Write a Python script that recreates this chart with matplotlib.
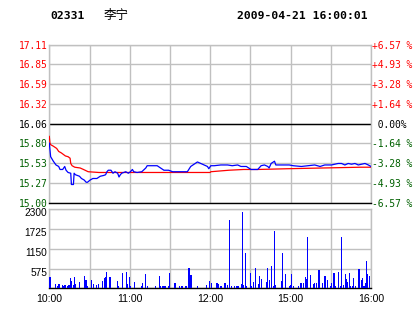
import matplotlib
matplotlib.use('Agg')
import matplotlib.pyplot as plt
from matplotlib.transforms import ScaledTranslation

# ---------------- data ----------------
stock_code = "02331"
stock_name = "李宁"
timestamp = "2009-04-21 16:00:01"
prev_close = 16.06

price_ticks = [15.00, 15.27, 15.53, 15.80, 16.06, 16.32, 16.59, 16.85, 17.11]
pct_labels = ["-6.57 %", "-4.93 %", "-3.28 %", "-1.64 %", " 0.00%",
              "+1.64 %", "+3.28 %", "+4.93 %", "+6.57 %"]
vol_ticks = [575, 1150, 1725, 2300]
time_ticks = [0, 60, 120, 180, 240]
time_labels = ["10:00", "11:00", "12:00", "15:00", "16:00"]

# minutes since 10:00 (trading minutes) and last price
price_t = [0, 1, 3, 5, 7, 8, 10, 11.5, 12.5, 14, 16, 16.5, 18, 18.5, 19.5, 21, 22.5,
           24, 26, 27.5, 28.5, 30.5, 32.5, 35.5, 38, 40.5, 42, 43, 44, 46, 47.5, 49,
           51, 52, 53, 54, 57, 59, 60.5, 62, 63, 65.5, 69, 72, 73, 80.5, 83, 85.5, 89,
           92, 103, 105.5, 108, 110.5, 113, 115.5, 118, 119, 120.5, 123, 128, 133,
           136.5, 140.5, 143, 147, 150.5, 155.5, 158, 160.5, 163, 164, 165.5, 168,
           169, 173, 179, 182, 188, 193, 198, 202, 205.5, 210.5, 213, 215.5, 218,
           220.5, 223, 225.5, 228, 230.5, 233, 235.5, 238, 240]
price_v = [15.80, 15.62, 15.56, 15.51, 15.49, 15.45, 15.45, 15.49, 15.44, 15.41, 15.40,
           15.25, 15.25, 15.40, 15.38, 15.37, 15.36, 15.33, 15.31, 15.28, 15.28, 15.31,
           15.33, 15.33, 15.36, 15.37, 15.38, 15.42, 15.44, 15.44, 15.40, 15.42, 15.40,
           15.35, 15.38, 15.40, 15.42, 15.40, 15.42, 15.45, 15.42, 15.41, 15.42, 15.47,
           15.50, 15.50, 15.47, 15.44, 15.44, 15.42, 15.42, 15.49, 15.52, 15.55, 15.53,
           15.51, 15.49, 15.46, 15.50, 15.50, 15.51, 15.51, 15.50, 15.51, 15.49, 15.49,
           15.45, 15.45, 15.50, 15.51, 15.49, 15.47, 15.53, 15.56, 15.51, 15.51, 15.51,
           15.50, 15.49, 15.50, 15.51, 15.49, 15.51, 15.51, 15.52, 15.53, 15.53, 15.51,
           15.53, 15.52, 15.53, 15.51, 15.52, 15.53, 15.51, 15.49]

# average price line
avg_t = [0, 0.5, 1, 3, 5.5, 7, 9, 12, 14, 15.5, 16, 17, 19, 23, 25.5, 29, 37, 68,
         120, 120.5, 134, 145, 155.5, 178, 232, 240]
avg_v = [15.89, 15.80, 15.78, 15.76, 15.73, 15.69, 15.67, 15.63, 15.62, 15.60, 15.53,
         15.50, 15.48, 15.47, 15.45, 15.42, 15.41, 15.41, 15.41, 15.42, 15.44, 15.45,
         15.45, 15.46, 15.48, 15.48]

# volume bars
vol_t = [0, 1, 4.5, 6, 6.7, 7.5, 9.7, 10.4, 11.7, 12.4, 13.4, 14.7, 15.7, 16.4, 17.9,
         18.7, 19.4, 22.4, 26.6, 27.4, 28.1, 31.3, 32.8, 35.3, 36.6, 39.6, 41.5, 42.3,
         43.0, 44.8, 45.5, 50.7, 51.5, 54.5, 57.5, 58.2, 59.5, 60.9, 63.9, 68.7, 69.4,
         71.6, 73.1, 78.9, 82.1, 83.3, 84.3, 85.3, 86.3, 89.3, 90.0, 93.8, 96.8, 99.0,
         102.0, 104.2, 105.7, 110.4, 117.2, 119.4, 120.9, 125.1, 126.1, 128.1, 131.1,
         132.6, 134.3, 135.6, 138.1, 139.6, 140.8, 143.5, 144.0, 145.0, 146.3, 147.3,
         150.0, 151.0, 152.2, 153.7, 156.0, 156.7, 158.5, 161.9, 162.7, 164.2, 165.7,
         167.2, 168.2, 168.9, 173.1, 173.9, 175.9, 179.1, 180.1, 180.8, 182.3, 185.8,
         187.8, 189.3, 191.0, 191.8, 192.5, 194.8, 197.0, 198.0, 199.5, 201.2, 203.7,
         205.7, 207.5, 210.0, 210.7, 212.4, 213.7, 215.7, 217.2, 218.2, 219.2, 220.9,
         221.9, 222.6, 223.9, 224.9, 226.1, 227.1, 228.1, 230.6, 231.6, 233.1, 233.8,
         234.8, 236.1, 236.8, 237.6, 238.6]
vol_v = [335, 335, 125, 77, 115, 125, 96, 77, 96, 67, 77, 96, 306, 210, 96, 335, 115,
         192, 364, 240, 67, 240, 125, 96, 125, 210, 306, 335, 470, 316, 335, 210, 67,
         440, 470, 125, 325, 67, 192, 67, 144, 412, 67, 67, 355, 67, 67, 67, 67, 67,
         440, 153, 67, 67, 67, 584, 383, 67, 96, 220, 163, 144, 115, 67, 144, 96, 1988,
         67, 67, 67, 67, 115, 2221, 96, 1020, 67, 431, 67, 192, 604, 115, 364, 268, 172,
         584, 240, 661, 77, 1680, 96, 210, 1030, 412, 67, 96, 412, 67, 67, 144, 144,
         316, 268, 1480, 383, 115, 144, 144, 527, 144, 355, 240, 67, 144, 431, 77, 470,
         67, 1480, 96, 412, 268, 172, 431, 67, 67, 297, 67, 556, 556, 240, 306, 67, 144,
         785, 412, 364]

# ---------------- drawing ----------------
W, H = 414, 314
fig = plt.figure(figsize=(W / 100, H / 100), dpi=100)
fig.patch.set_facecolor('white')

def px_axes(l, t, r, b):
    return fig.add_axes([l / W, 1 - b / H, (r - l) / W, (b - t) / H])

GRID = '#c0c0c0'
RED = '#ff0000'
GREEN = '#006000'
BLUE = '#0000ff'
MONO = 'DejaVu Sans Mono'
SANS = 'Liberation Sans'
PFS = 6.9

ax = px_axes(49.3, 44.7, 371, 203.3)
axv = px_axes(49.3, 209.3, 371, 288.3)

for a in (ax, axv):
    a.set_xlim(0, 240)
    a.set_xticks(range(0, 241, 30))
    a.grid(True, color=GRID, lw=1.0)
    a.set_axisbelow(True)
    for s in a.spines.values():
        s.set_color(GRID)
        s.set_linewidth(1.0)
    a.spines['bottom'].set_color('black')
    a.tick_params(length=0)

def pcolor(v):
    if abs(v - prev_close) < 1e-9:
        return 'black'
    return RED if v > prev_close else GREEN

# price panel
ax.set_ylim(price_ticks[0], price_ticks[-1])
ax.set_yticks(price_ticks)
ax.set_yticklabels([f"{v:.2f}" for v in price_ticks])
ax.set_xticklabels([])
ax.tick_params(axis='y', pad=1.5)
for lab, v in zip(ax.get_yticklabels(), price_ticks):
    lab.set_fontfamily(MONO)
    lab.set_fontsize(PFS)
    lab.set_color(pcolor(v))
ax.axhline(prev_close, color='black', lw=1.0, zorder=1.5)
ax.plot(avg_t, avg_v, color=RED, lw=0.9, zorder=3)
ax.plot(price_t, price_v, color=BLUE, lw=0.9, zorder=4)

tw = ax.twinx()
tw.set_ylim(price_ticks[0], price_ticks[-1])
tw.set_yticks(price_ticks)
tw.set_yticklabels(pct_labels)
tw.tick_params(length=0, pad=1)
for s in tw.spines.values():
    s.set_visible(False)
for lab, v in zip(tw.get_yticklabels(), price_ticks):
    lab.set_fontfamily(MONO)
    lab.set_fontsize(PFS)
    lab.set_color(pcolor(v))

# volume panel
axv.set_ylim(0, 2300)
axv.set_yticks([0] + vol_ticks)
axv.set_yticklabels([""] + [str(v) for v in vol_ticks])
axv.tick_params(axis='y', pad=1.5)
off = ScaledTranslation(0, -3 / 100, fig.dpi_scale_trans)
for lab in axv.get_yticklabels():
    lab.set_fontfamily(SANS)
    lab.set_fontsize(7.3)
    lab.set_transform(lab.get_transform() + off)
axv.set_xticklabels(["" if t not in time_ticks else time_labels[time_ticks.index(t)]
                     for t in range(0, 241, 30)])
axv.tick_params(axis='x', pad=4)
for lab in axv.get_xticklabels():
    lab.set_fontfamily(SANS)
    lab.set_fontsize(7.6)
axv.bar(vol_t, vol_v, width=0.8, color=BLUE, linewidth=0, zorder=3)

# header
fig.text(50 / W, 1 - 16 / H, stock_code, family=MONO, weight='bold', fontsize=8.2, va='center')
fig.text(104 / W, 1 - 16 / H, stock_name, family=['Noto Sans CJK SC', 'DejaVu Sans'],
         fontsize=9, va='center')
fig.text(237 / W, 1 - 16 / H, timestamp, family=MONO, weight='bold', fontsize=8.2, va='center')

fig.savefig('out.png', dpi=100)
